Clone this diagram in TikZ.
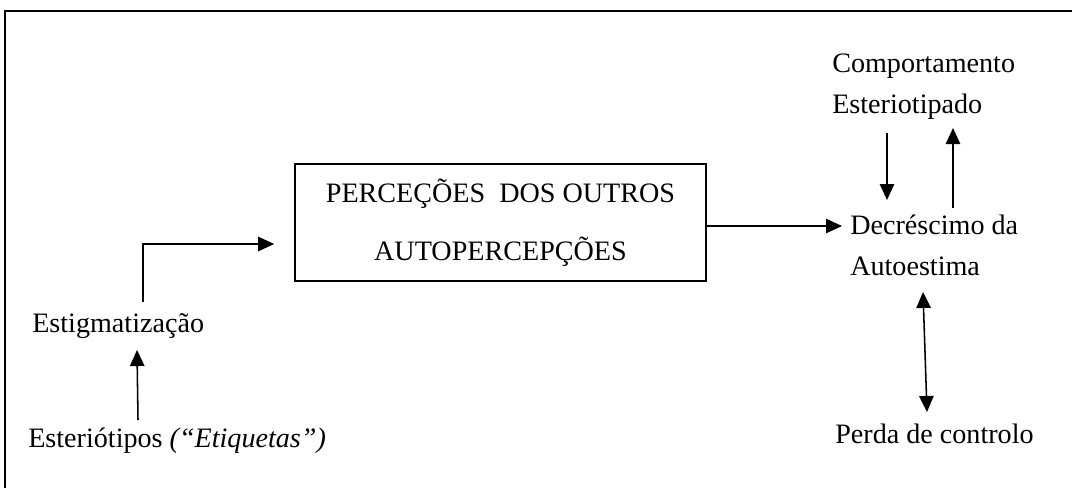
\documentclass[tikz,border=0pt]{standalone}
\usepackage{fontspec}
\setmainfont{Liberation Serif}
\usepackage{tikz}
\usetikzlibrary{arrows.meta, calc}

\begin{document}
\begin{tikzpicture}[x=0.025cm, y=-0.025cm,
		rotulo/.style={inner sep=0pt, anchor=base west, align=left, font=\fontsize{20}{28.45}\selectfont},
		caixa/.style={draw, line width=1.1pt, minimum width=10.275cm, minimum height=2.925cm, align=center, font=\fontsize{20}{41.2}\selectfont},
		seta/.style={line width=1.1pt, -{Triangle[length=0.4cm, width=0.36cm]}},
		dupla/.style={line width=1.1pt, {Triangle[length=0.4cm, width=0.36cm]}-{Triangle[length=0.4cm, width=0.36cm]}}]
	\useasboundingbox (0,0) rectangle (1072,488);
	% Frame
	\draw[line width=1.6pt] (5,488) -- (5,11) -- (1072,11);
	
	% Nodes
	\node[caixa] (perc) at (500.5,222.5) {PERCEÇÕES\ \ DOS OUTROS\\AUTOPERCEPÇÕES};
	\node[rotulo] (estig) at (32,332) {Estigmatização};
	\node[rotulo] (etiq) at (28,447) {Esteriótipos \textit{(“Etiquetas”)}};
	\node[rotulo] (comp) at (832,113) {Comportamento\\Esteriotipado};
	\node[rotulo] (decr) at (850,275) {Decréscimo da\\Autoestima};
	\node[rotulo] (perda) at (835,443) {Perda de controlo};
	
	% Edges
	\draw[seta] ($(etiq.base west)+(110,-27)$) -- ($(estig.base west)+(105,18)$);
	\draw[seta] ($(estig.base west)+(111,-30)$) |- ($(perc.west)+(-20,21.5)$);
	\draw[seta] ($(perc.east)+(0,3.5)$) -- ($(decr.base west)+(-8,-49)$);
	\draw[seta] ($(comp.base west)+(55,20)$) -- ($(decr.base west)+(37,-75)$);
	\draw[seta] ($(decr.base west)+(103,-67)$) -- ($(comp.base west)+(121,15)$);
	\draw[dupla] ($(decr.base west)+(73,17)$) -- ($(perda.base west)+(92,-31)$);
\end{tikzpicture}
\end{document}
